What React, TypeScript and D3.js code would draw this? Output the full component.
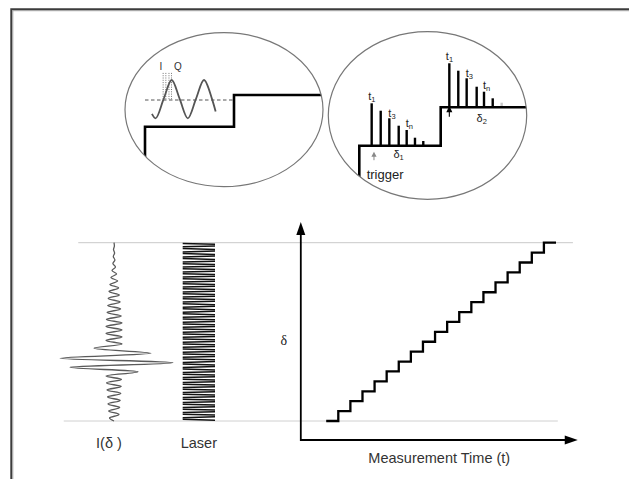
import React from 'react';
import * as d3 from 'd3';

// ---------- Main panel: stepped optical delay vs measurement time ----------
const stairTimes = [0, 1, 2, 3, 4, 5, 6, 7, 8, 9, 10, 11, 12, 13, 14, 15, 16, 17, 18, 19];
const stairLevels = [0, 1, 2, 3, 4, 5, 6, 7, 8, 9, 10, 11, 12, 13, 14, 15, 16, 17, 18, 18];
const timeAxisExtent = [-2.1, 20.8];
const delayAxisExtent = [-1.92, 20.1];
const refTopExtent = [-20.5, 20.4];
const refBottomExtent = [-21.7, 19.15];

// ---------- Interferogram I(delta): turning points (delta, intensity) ----------
const ifgDelta = [
  18.0, 17.67, 17.31, 16.96, 16.61, 16.25, 15.9, 15.55, 15.19, 14.84, 14.49, 14.13, 13.78,
  13.43, 13.07, 12.72, 12.37, 12.01, 11.66, 11.31, 10.95, 10.6, 10.25, 9.89, 9.54, 9.19,
  8.83, 8.48, 8.13, 7.77, 7.34, 6.83, 6.33, 5.89, 5.42, 4.98, 4.54, 4.19, 3.84, 3.48, 3.13,
  2.78, 2.42, 2.07, 1.72, 1.36, 1.01, 0.66, 0.3, 0.0,
];
const ifgIntensity = [
  0, 0.4, -0.5, 0.6, -0.7, 0.9, -1.1, 1.5, -2.0, 2.6, -3.1, 3.6, -4.1,
  4.6, -5.0, 5.4, -5.8, 6.1, -6.3, 6.6, -6.9, 7.3, -7.6, 8.0, -8.0, 8.0,
  -8.0, 8.0, -8.0, 8.0, -20, 37, -54, 59, -44, 24, -8, 7.5, -7.5, 7.2, -7.0,
  6.8, -6.5, 6.2, -6.0, 5.7, -5.4, 5.0, -4.5, 0,
];

// ---------- Laser reference fringes ----------
const laserHalfCycles = 71;

// ---------- Left inset: I/Q sampling on a step ----------
const insetLRisers = [0, 1];
const insetLLevels = [1, 2];
const wavePhase = [-130, -90, 0, 90, 180, 270, 360, 450, 540, 580];
const waveValue = [-0.77, -1, 0, 1, 0, -1, 0, 1, 0, -0.64];
const iqDotPhases = [-5, 25, 60, 88];
const insetLDashLevel = 1.842;

// ---------- Right inset: triggered samples t1..tn on each step ----------
const insetRRisers = [0, 1];
const insetRLevels = [1, 2];
const bars1Pos = [0.152, 0.263, 0.369, 0.484, 0.582, 0.684, 0.786];
const bars1H = [1.104, 0.911, 0.714, 0.521, 0.409, 0.208, 0.122];
const bars2Pos = [1.106, 1.216, 1.319, 1.442, 1.532, 1.639, 1.749];
const bars2H = [1.146, 0.953, 0.755, 0.536, 0.406, 0.234, 0.12];
const barLabels = ['1', '3', 'n'];
const barLabelIdx = [0, 2, 4];

const SANS = '"Liberation Sans", Arial, sans-serif';
const SERIF = '"Liberation Serif", "Times New Roman", serif';

function stepPath(
  risers: number[],
  levels: number[],
  xs: d3.ScaleLinear<number, number>,
  ys: d3.ScaleLinear<number, number>,
  startLevel: number,
  endT: number
) {
  const pts: [number, number][] = [[risers[0], startLevel]];
  risers.forEach((r, i) => pts.push([r, levels[i]]));
  pts.push([endT, levels[levels.length - 1]]);
  return d3
    .line<[number, number]>()
    .x((d) => xs(d[0]))
    .y((d) => ys(d[1]))
    .curve(d3.curveStepAfter)(pts) as string;
}

export default function App() {
  const W = 629;
  const H = 479;

  const tX = d3.scaleLinear().domain([0, 19]).range([326.2, 556]);
  const dY = d3.scaleLinear().domain([0, 18]).range([421, 242.7]);

  const stairPts: [number, number][] = stairTimes.map((t, i) => [t, stairLevels[i]]);
  const stairD = d3
    .line<[number, number]>()
    .x((d) => tX(d[0]))
    .y((d) => dY(d[1]))
    .curve(d3.curveStepAfter)(stairPts) as string;

  const x0 = tX(timeAxisExtent[0]);
  const y0 = dY(delayAxisExtent[0]);
  const xTip = tX(timeAxisExtent[1]);
  const yTip = dY(delayAxisExtent[1]);

  // interferogram
  const iX = d3.scaleLinear().domain([-60, 60]).range([54, 174]);
  const ifgPts: [number, number][] = ifgDelta.map((d, i) => [ifgIntensity[i], d]);
  const ifgD = d3
    .line<[number, number]>()
    .x((d) => iX(d[0]))
    .y((d) => dY(d[1]))
    .curve(d3.curveMonotoneY)(ifgPts) as string;

  // laser fringes: one near-horizontal stroke per half cycle
  const lX = d3.scaleLinear().domain([-1, 1]).range([182.7, 215]);
  const laserDeltas = d3.range(laserHalfCycles).map((k) => 18 - ((k + 0.5) * 18) / laserHalfCycles);

  // left inset
  const lx = d3.scaleLinear().domain([0, 1]).range([145, 234]);
  const ly = d3.scaleLinear().domain([1, 2]).range([126.7, 95]);
  const leftStep = stepPath(insetLRisers, insetLLevels, lx, ly, -0.6, 2.4);
  const wx = d3.scaleLinear().domain([0, 360]).range([163.6, 195.9]);
  const wy = d3.scaleLinear().domain([-1, 1]).range([118.3, 80]);
  const waveD = d3
    .line<[number, number]>()
    .x((d) => wx(d[0]))
    .y((d) => wy(d[1]))
    .curve(d3.curveMonotoneX)(wavePhase.map((p, i) => [p, waveValue[i]])) as string;

  // right inset
  const rx = d3.scaleLinear().domain([0, 1]).range([359.3, 440.7]);
  const ry = d3.scaleLinear().domain([1, 2]).range([145.7, 107.3]);
  const rightStep = stepPath(insetRRisers, insetRLevels, rx, ry, 0, 2.2);

  const renderBars = (pos: number[], hs: number[], level: number, key: string) =>
    pos.map((p, i) => (
      <line
        key={key + i}
        x1={rx(p)}
        x2={rx(p)}
        y1={ry(level)}
        y2={ry(level + hs[i])}
        stroke={key === 'b2' && i === pos.length - 1 ? '#c8c8c8' : '#000'}
        strokeWidth={2.4}
      />
    ));

  const renderLabels = (pos: number[], hs: number[], level: number, key: string) =>
    barLabelIdx.map((bi, j) => {
      const bx = rx(pos[bi]);
      const by = ry(level + hs[bi]);
      const dx = j === 0 ? -3.5 : -1;
      const dyb = j === 1 ? -1 : -3;
      return (
        <text key={key + j} x={bx + dx} y={by + dyb} fontFamily={SANS} fontSize={11} fill="#222">
          t
          <tspan fontSize={7.5} dy={2} fill="#222">
            {barLabels[j]}
          </tspan>
        </text>
      );
    });

  const arrowHead = (cx: number, tip: number, len: number, hw: number) =>
    `M${cx},${tip} L${cx - hw},${tip + len} L${cx + hw},${tip + len} Z`;

  const a1x = rx(bars1Pos[0]) + 2.3;
  const a1tip = ry(1) + 6;
  const a2x = rx(bars2Pos[0]);
  const a2tip = ry(2) - 1.5;

  return (
    <svg
      width={W}
      height={H}
      style={{ position: 'absolute', left: 0, top: 0, background: '#fff' }}
      xmlns="http://www.w3.org/2000/svg"
    >
      <defs>
        <clipPath id="clipL">
          <ellipse cx={224} cy={109.7} rx={99} ry={77} />
        </clipPath>
        <clipPath id="clipR">
          <ellipse cx={427.5} cy={115.5} rx={99.2} ry={83.8} />
        </clipPath>
      </defs>
      <rect x={0} y={0} width={W} height={H} fill="#fff" />

      {/* frame */}
      <path d="M11.3,479 V9.3 H629" fill="none" stroke="#3c3c3c" strokeWidth={2} />
      <path d="M12.8,479 V10.7 H629" fill="none" stroke="#a0a0a0" strokeWidth={1} />

      {/* left inset */}
      <g>
        <line
          x1={lx(0)}
          x2={lx(1.01)}
          y1={ly(insetLDashLevel)}
          y2={ly(insetLDashLevel)}
          stroke="#555"
          strokeWidth={1}
          strokeDasharray="3.5,2.5"
        />
        {iqDotPhases.map((p, i) => (
          <line
            key={'dot' + i}
            x1={wx(p)}
            x2={wx(p)}
            y1={wy(1.37)}
            y2={wy(-0.05)}
            stroke="#666"
            strokeWidth={0.9}
            strokeDasharray="1,1.3"
          />
        ))}
        <path d={waveD} fill="none" stroke="#555" strokeWidth={1.8} />
        <text x={wx(-30)} y={wy(1.5)} textAnchor="middle" fontFamily={SANS} fontSize={10} fill="#333">
          I
        </text>
        <text x={wx(160)} y={wy(1.5)} textAnchor="middle" fontFamily={SANS} fontSize={10} fill="#333">
          Q
        </text>
        <path d={leftStep} clipPath="url(#clipL)" fill="none" stroke="#000" strokeWidth={2.6} />
        <ellipse cx={224} cy={109.7} rx={99} ry={77} fill="none" stroke="#777" strokeWidth={1.2} />
      </g>

      {/* right inset */}
      <g>
        {renderBars(bars1Pos, bars1H, 1, 'b1')}
        {renderBars(bars2Pos, bars2H, 2, 'b2')}
        <path d={rightStep} clipPath="url(#clipR)" fill="none" stroke="#000" strokeWidth={2.6} />
        {renderLabels(bars1Pos, bars1H, 1, 'l1')}
        {renderLabels(bars2Pos, bars2H, 2, 'l2')}
        <path d={arrowHead(a1x, a1tip, 5, 2.6)} fill="#888" />
        <line x1={a1x} x2={a1x} y1={a1tip + 4} y2={a1tip + 8.5} stroke="#888" strokeWidth={1} />
        <path d={arrowHead(a2x, a2tip, 6.5, 3)} fill="#000" />
        <line x1={a2x} x2={a2x} y1={a2tip + 5} y2={a2tip + 11} stroke="#000" strokeWidth={1.1} />
        <text x={rx(0.42)} y={ry(1) + 12.6} fontFamily={SANS} fontSize={11} fill="#222">
          δ<tspan fontSize={7.5} dy={2} fill="#222">1</tspan>
        </text>
        <text x={rx(1.44)} y={ry(2) + 14.2} fontFamily={SANS} fontSize={11} fill="#222">
          δ<tspan fontSize={7.5} dy={2} fill="#222">2</tspan>
        </text>
        <text x={rx(0.09)} y={178.8} fontFamily={SANS} fontSize={13} fill="#222">
          trigger
        </text>
        <ellipse cx={427.5} cy={115.5} rx={99.2} ry={83.8} fill="none" stroke="#777" strokeWidth={1.2} />
      </g>

      {/* reference delay lines */}
      <line x1={tX(refTopExtent[0])} x2={tX(refTopExtent[1])} y1={dY(18)} y2={dY(18)} stroke="#c9c9c9" strokeWidth={1} />
      <line x1={tX(refBottomExtent[0])} x2={tX(refBottomExtent[1])} y1={dY(0)} y2={dY(0)} stroke="#d0d0d0" strokeWidth={1} />

      {/* interferogram */}
      <path d={ifgD} fill="none" stroke="#5a5a5a" strokeWidth={1.3} />

      {/* laser */}
      <g>
        {laserDeltas.map((d, k) => (
          <line
            key={'las' + k}
            x1={lX(-1)}
            x2={lX(1)}
            y1={dY(d) + (k % 2 === 0 ? -0.4 : 0.4)}
            y2={dY(d) + (k % 2 === 0 ? 0.4 : -0.4)}
            stroke="#111"
            strokeWidth={1.5}
          />
        ))}
      </g>

      {/* axes */}
      <path d={`M${x0},${yTip + 10} V${y0} H${xTip - 10}`} fill="none" stroke="#000" strokeWidth={1.8} />
      <path d={`M${x0},${yTip} L${x0 - 4.5},${yTip + 13} L${x0 + 4.5},${yTip + 13} Z`} fill="#000" />
      <path d={`M${xTip},${y0} L${xTip - 13},${y0 - 4.5} L${xTip - 13},${y0 + 4.5} Z`} fill="#000" />

      {/* staircase */}
      <path d={stairD} fill="none" stroke="#000" strokeWidth={2.3} />

      {/* labels */}
      <text x={x0 - 17} y={345} textAnchor="middle" fontFamily={SERIF} fontSize={14} fill="#222">
        δ
      </text>
      <text x={109} y={448} textAnchor="middle" fontFamily={SANS} fontSize={14.5} fill="#333">
        I(δ )
      </text>
      <text x={lX(0)} y={448.3} textAnchor="middle" fontFamily={SANS} fontSize={14.5} fill="#333">
        Laser
      </text>
      <text x={(x0 + xTip) / 2} y={463} textAnchor="middle" fontFamily={SANS} fontSize={14.5} fill="#333">
        Measurement Time (t)
      </text>
    </svg>
  );
}
